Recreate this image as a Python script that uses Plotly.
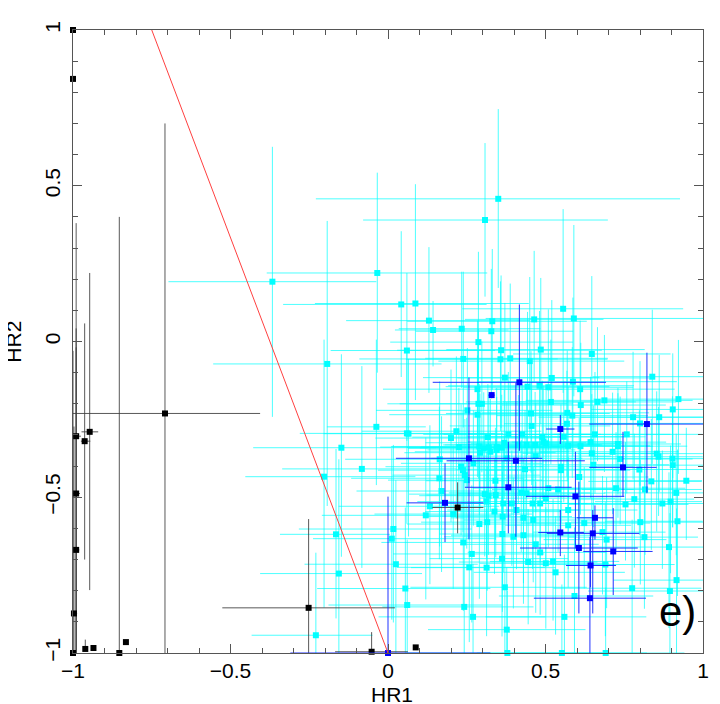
import plotly.graph_objects as go

# Cyan sources
cyan_hr1 = [-.367,-.034,.35,.308,.042,.087,.13,.143,.234,.331,
 .328,-.193,.556,.59,.464,-.037,-.148,-.083,-.203,-.165,
 -.156,-.229,
 .060,.287,.359,.485,.647,.239,.357,.388,.450,.371,
 .520,.839,.587,.284,.443,.481,.509,.610,.287,.298,
 .517,.612,.665,.687,.922,.252,.284,.454,.569,.585,
 .904,.778,.861,.568,.800,.456,.060,.065,.217,.200,
 .317,.382,.426,.558,.657,.758,.490,.369,.225,.290,
 .304,.320,.345,.361,.414,.440,.467,.493,.502,.572,
 .611,.643,.730,.730,.345,.647,.713,.853,.859,.737,
 .903,.164,.325,.292,.271,.232,.238,.377,.435,.469,
 .549,.549,.652,.798,.904,.163,.244,.250,.341,.607,
 .947,.836,.816,.724,.509,.540,.915,.170,.307,.319,
 .342,.423,.440,.782,.754,.871,.897,.133,.313,.366,
 .393,.459,.483,.501,.120,.207,.338,.364,.408,.430,
 .461,.572,.290,.315,.572,.623,.801,.919,.017,.012,
 .363,.398,.430,.239,.694,.681,.814,.469,.892,.483,
 .266,.362,.445,.501,.524,.690,.025,.258,.313,.532,
 .916,.055,.371,.775,.895,.592,.061,.242,.270,.560,
 .377,.379,.552,.691]
cyan_hr2 = [.192,.22,.458,.39,.119,.122,.067,.037,.041,.065,
 .033,-.072,.105,.074,.071,-.274,-.341,-.409,-.434,-.619,
 -.745,-.943,
 -.029,-.002,-.028,-.026,-.040,-.056,-.057,-.054,-.063,-.116,
 -.117,-.113,-.129,-.153,-.145,-.142,-.147,-.153,-.200,-.200,
 -.194,-.204,-.194,-.189,-.185,-.221,-.235,-.231,-.229,-.238,
 -.218,-.243,-.243,-.264,-.263,-.271,-.295,-.296,-.288,-.310,
 -.307,-.298,-.298,-.306,-.298,-.298,-.306,-.325,-.339,-.337,
 -.343,-.340,-.339,-.341,-.332,-.332,-.332,-.322,-.327,-.335,
 -.336,-.323,-.329,-.336,-.348,-.359,-.354,-.360,-.370,-.377,
 -.376,-.378,-.354,-.357,-.391,-.402,-.413,-.375,-.410,-.368,
 -.402,-.413,-.396,-.411,-.397,-.439,-.429,-.445,-.447,-.435,
 -.447,-.449,-.475,-.471,-.471,-.475,-.486,-.480,-.490,-.495,
 -.493,-.486,-.487,-.506,-.523,-.520,-.514,-.529,-.514,-.520,
 -.520,-.520,-.520,-.503,-.558,-.554,-.546,-.562,-.541,-.566,
 -.573,-.541,-.586,-.580,-.590,-.583,-.580,-.577,-.602,-.633,
 -.618,-.627,-.622,-.645,-.636,-.612,-.628,-.651,-.660,-.677,
 -.682,-.697,-.708,-.712,-.706,-.716,-.715,-.725,-.726,-.741,
 -.766,-.793,-.789,-.792,-.801,-.817,-.846,-.852,-.884,-.884,
 -.925,-1,-1,-1]
cyan_xm = [.33,.351,.579,.387,.375,.319,.263,.121,.2,.27,
 .24,.362,.32,.28,.22,.157,.28,.253,.25,.178,
 .25,.204,
 .242,.28,.33,.3,.25,.33,.3,.27,.29,.26,
 .3,.19,.3,.3,.26,.29,.27,.27,.25,.3,
 .27,.25,.3,.25,.27,.29,.28,.27,.27,.24,
 .26,.3,.25,.2,.16,.26,.34,.27,.3,.24,
 .24,.27,.25,.25,.24,.23,.24,.25,.25,.28,
 .24,.26,.24,.26,.24,.26,.25,.24,.24,.22,
 .24,.25,.25,.21,.22,.22,.23,.25,.21,.2,
 .25,.3,.24,.24,.23,.24,.27,.24,.22,.22,
 .22,.24,.22,.2,.24,.28,.23,.25,.22,.23,
 .24,.2,.2,.22,.24,.21,.23,.27,.24,.22,
 .22,.23,.22,.2,.18,.2,.24,.29,.22,.23,
 .21,.22,.25,.21,.33,.25,.22,.24,.22,.23,
 .22,.2,.23,.21,.2,.2,.22,.23,.3,.25,
 .2,.22,.23,.26,.2,.22,.24,.24,.25,.23,
 .25,.23,.22,.21,.2,.24,.29,.23,.24,.26,
 .2,.28,.3,.25,.26,.24,.25,.26,.3,.25,
 .25,.32,.27,.3]
cyan_xp = [.33,.349,.577,.39,.271,.36,.32,.24,.25,.3,
 .26,.363,.381,.41,.22,.157,.3,.3,.29,.171,
 .264,.18,
 .28,.3,.32,.33,.25,.3,.34,.31,.3,.3,
 .31,.3,.33,.27,.26,.3,.27,.3,.3,.27,
 .27,.27,.25,.28,.1,.27,.3,.25,.26,.24,
 .12,.24,.2,.25,.25,.25,.28,.3,.27,.3,
 .24,.27,.25,.26,.24,.24,.26,.26,.28,.28,
 .26,.24,.27,.24,.26,.24,.25,.25,.24,.26,
 .23,.24,.2,.22,.25,.22,.21,.15,.14,.23,
 .1,.27,.25,.24,.22,.26,.23,.24,.25,.24,
 .23,.22,.24,.2,.1,.27,.24,.24,.23,.22,
 .05,.16,.18,.22,.23,.24,.085,.25,.23,.25,
 .24,.22,.25,.19,.2,.13,.1,.22,.24,.23,
 .24,.21,.2,.22,.27,.25,.21,.22,.2,.22,
 .2,.22,.24,.22,.2,.21,.2,.08,.25,.33,
 .24,.2,.22,.24,.19,.2,.17,.2,.11,.21,
 .23,.21,.22,.2,.21,.22,.26,.24,.22,.22,
 .085,.27,.26,.22,.105,.25,.3,.22,.23,.26,
 .25,.3,.27,.25]
cyan_ym = [.434,.32,.286,.246,.233,.31,.232,.117,.19,.22,
 .2,.456,.27,.25,.2,.187,.35,.318,.42,.27,
 .255,.057,
 .29,.2,.25,.24,.33,.22,.23,.25,.24,.25,
 .22,.28,.24,.2,.22,.23,.2,.23,.24,.22,
 .2,.22,.19,.23,.24,.25,.2,.19,.22,.2,
 .22,.2,.24,.17,.2,.19,.29,.33,.28,.27,
 .18,.19,.18,.21,.19,.19,.2,.18,.2,.22,
 .17,.2,.18,.21,.19,.17,.2,.18,.19,.22,
 .22,.18,.16,.23,.19,.23,.2,.25,.19,.21,
 .22,.28,.19,.18,.2,.22,.2,.19,.17,.18,
 .2,.17,.2,.21,.2,.26,.2,.22,.19,.2,
 .19,.22,.21,.2,.19,.2,.2,.26,.2,.19,
 .2,.19,.21,.22,.18,.21,.23,.25,.18,.22,
 .2,.21,.19,.22,.27,.24,.2,.22,.19,.21,
 .2,.19,.24,.22,.2,.21,.2,.24,.3,.26,
 .25,.23,.22,.22,.22,.2,.23,.22,.26,.2,
 .22,.25,.2,.21,.19,.23,.285,.24,.22,.2,
 .234,.207,.211,.208,.199,.183,.154,.148,.116,.116,
 .075,0,0,0]
cyan_yp = [.433,.322,.288,.247,.235,.383,.236,.093,.183,.232,
 .2,.459,.32,.3,.22,.28,.3,.33,.44,.274,
 .367,.265,
 .249,.29,.24,.23,.25,.28,.25,.24,.27,.24,
 .25,.215,.27,.22,.24,.24,.25,.22,.24,.2,
 .2,.2,.24,.21,.19,.2,.19,.2,.2,.22,
 .18,.21,.2,.17,.2,.21,.27,.24,.24,.22,
 .17,.2,.16,.18,.2,.17,.18,.17,.19,.2,
 .18,.17,.19,.17,.16,.19,.17,.18,.17,.19,
 .2,.21,.18,.17,.17,.19,.19,.2,.16,.2,
 .2,.25,.17,.19,.17,.2,.19,.18,.19,.17,
 .2,.18,.19,.19,.17,.23,.18,.2,.17,.19,
 .17,.2,.2,.18,.17,.18,.19,.24,.19,.17,
 .18,.17,.16,.21,.2,.17,.18,.26,.16,.19,
 .17,.18,.19,.17,.25,.22,.17,.18,.17,.19,
 .17,.17,.2,.18,.2,.18,.2,.23,.27,.29,
 .2,.19,.18,.2,.2,.18,.23,.2,.24,.18,
 .22,.2,.17,.18,.2,.2,.27,.2,.19,.18,
 .23,.26,.23,.22,.25,.22,.21,.2,.17,.2,
 .2,.2,.22,.21]

# Blue sources
blue_hr1 = [.417,.329,.547,.822,.257,.406,.746,.382,.595,.181,.657,.547,.650,.606,.715,.643,.641,0]
blue_hr2 = [-.131,-.172,-.281,-.265,-.375,-.383,-.404,-.468,-.497,-.518,-.566,-.613,-.616,-.663,-.674,-.719,-.824,-1]
blue_xm = [.275,.01,.045,.183,.232,.22,.107,.138,.157,.122,.058,.07,.146,.187,.095,.078,.178,.31]
blue_xp = [.275,.01,.045,.2,.233,.219,.107,.201,.155,.122,.058,.075,.148,.187,.125,.081,.178,.325]
blue_ym = [.22,.01,.048,.222,.26,.244,.094,.148,.167,.126,.07,.076,.257,.21,.14,.07,.176,0]
blue_yp = [.25,.01,.045,.229,.259,.25,.114,.146,.143,.127,.04,.072,.075,.213,.139,.1,.197,.502]

# Black sources
black_hr1 = [-1,-1,-.708,-.947,-.963,-.99,-.99,-.99,-.997,-1,-.961,-.935,-.832,-.853,.221,-.252,-.052,.088]
black_hr2 = [1,.843,-.231,-.29,-.32,-.304,-.488,-.669,-.873,-1,-.987,-.984,-.965,-1,-.533,-.855,-.996,-.982]
black_xm = [0,0,.292,.026,.012,.01,.01,.01,.003,0,0,0,0,0,.08,.274,.116,0]
black_xp = [0,0,.302,.027,.018,.015,.012,.01,.01,0,0,0,0,0,.082,.274,.115,0]
black_ym = [0,0,.769,.508,.38,.696,.512,.33,.127,0,0,0,0,0,.083,.145,.004,0]
black_yp = [0,0,.931,.51,.378,.684,.53,.65,.6,.97,.03,0,0,1.4,.081,.285,.063,0]

# Separating line and axis labels
line_hr1 = [-.75, 0]
line_hr2 = [1, -1]
tick_vals = [-1, -.5, 0, .5, 1]
tick_text = ["\u22121", "\u22120.5", "0", "0.5", "1"]
x_title = "HR1"
y_title = "HR2"
panel_label = "e)"

FONT = "Liberation Sans, Helvetica, Arial, sans-serif"


def add_group(fig, x, y, xm, xp, ym, yp, marker_color, err_color):
    fig.add_trace(go.Scatter(
        x=x, y=y, mode="markers", marker=dict(size=1, color=err_color, opacity=0),
        error_x=dict(type="data", symmetric=False, array=xp, arrayminus=xm,
                     color=err_color, thickness=1, width=0),
        error_y=dict(type="data", symmetric=False, array=yp, arrayminus=ym,
                     color=err_color, thickness=1, width=0),
        cliponaxis=True, hoverinfo="skip", showlegend=False))
    fig.add_trace(go.Scatter(
        x=x, y=y, mode="markers",
        marker=dict(symbol="square", size=6, color=marker_color, line=dict(width=0)),
        cliponaxis=False, showlegend=False))


fig = go.Figure()
add_group(fig, cyan_hr1, cyan_hr2, cyan_xm, cyan_xp, cyan_ym, cyan_yp, "#00ffff", "rgba(0,255,255,0.7)")
add_group(fig, black_hr1, black_hr2, black_xm, black_xp, black_ym, black_yp, "#000000", "rgba(60,60,60,0.85)")
add_group(fig, blue_hr1, blue_hr2, blue_xm, blue_xp, blue_ym, blue_yp, "#0000ff", "rgba(20,40,255,0.95)")
fig.add_trace(go.Scatter(x=line_hr1, y=line_hr2, mode="lines",
                         line=dict(color="#ff4040", width=1), showlegend=False, hoverinfo="skip"))

axis_common = dict(
    range=[-1, 1], tickvals=tick_vals, ticktext=tick_text, ticks="inside", ticklen=9,
    tickwidth=1, tickcolor="#555555", showline=True, linecolor="#555555", linewidth=1,
    mirror="ticks", showgrid=False, zeroline=False, automargin=False,
    tickfont=dict(family=FONT, size=21, color="#000000"),
    minor=dict(dtick=0.1, tick0=0, ticks="inside", ticklen=5, tickwidth=1, tickcolor="#555555", showgrid=False),
)
fig.update_xaxes(**axis_common, ticklabelstandoff=-1)
fig.update_yaxes(**axis_common, tickangle=-90, ticklabelstandoff=4)
title_font = dict(family=FONT, size=21, color="#000000")
fig.add_annotation(xref="paper", yref="paper", x=0.507, y=-0.067, text=x_title, showarrow=False,
                   xanchor="center", yanchor="middle", font=title_font)
fig.add_annotation(xref="paper", yref="paper", x=-0.095, y=0.5, text=y_title, showarrow=False, textangle=-90,
                   xanchor="center", yanchor="middle", font=title_font)
fig.add_annotation(x=0.985, y=-.95, text=panel_label, showarrow=False, xanchor="right", yanchor="bottom",
                   font=dict(family=FONT, size=42, color="#000000"))
fig.update_layout(width=720, height=704, autosize=False, showlegend=False,
                  margin=dict(l=65, r=25, t=22, b=59, pad=0),
                  paper_bgcolor="white", plot_bgcolor="white", hovermode=False)
fig.write_html("out.html")
